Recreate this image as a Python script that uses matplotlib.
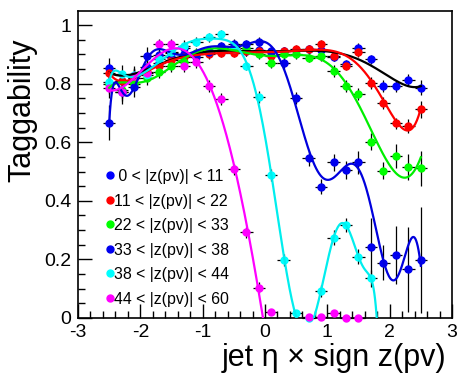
import numpy as np
import matplotlib
matplotlib.use('Agg')
import matplotlib.pyplot as plt
from matplotlib.lines import Line2D
from numpy.polynomial import Polynomial

plt.rcParams['font.family'] = ['Liberation Sans', 'DejaVu Sans']

# bin centres in jet eta x sign z(pv)
eta = [-2.5, -2.3, -2.1, -1.9, -1.7, -1.5, -1.3, -1.1, -0.9, -0.7, -0.5, -0.3, -0.1,
       0.1, 0.3, 0.5, 0.7, 0.9, 1.1, 1.3, 1.5, 1.7, 1.9, 2.1, 2.3, 2.5]
nan = np.nan

labels = [' 0 < |z(pv)| < 11', '11 < |z(pv)| < 22', '22 < |z(pv)| < 33',
          '33 < |z(pv)| < 38', '38 < |z(pv)| < 44', '44 < |z(pv)| < 60']

tag_z0 = [0.852, 0.81, 0.82, 0.858, 0.87, 0.89, 0.90, 0.892, 0.91, 0.91, 0.915, 0.91, 0.915,
          0.91, 0.91, 0.915, 0.917, 0.915, 0.892, 0.866, 0.923, 0.883, 0.793, 0.792, 0.812, 0.786]
err_z0 = [0.035, 0.03, 0.03, 0.025, 0.02, 0.02, 0.02, 0.015, 0.015, 0.015, 0.015, 0.015, 0.015,
          0.015, 0.015, 0.015, 0.015, 0.015, 0.015, 0.015, 0.015, 0.015, 0.02, 0.02, 0.02, 0.025]

tag_z1 = [0.835, 0.81, 0.82, 0.84, 0.86, 0.88, 0.89, 0.90, 0.90, 0.905, 0.905, 0.91, 0.91,
          0.894, 0.91, 0.917, 0.917, 0.935, 0.894, 0.86, 0.907, 0.801, 0.733, 0.664, 0.655, 0.712]
err_z1 = [0.035, 0.03, 0.03, 0.025, 0.02, 0.02, 0.02, 0.015, 0.015, 0.015, 0.015, 0.015, 0.015,
          0.015, 0.015, 0.015, 0.015, 0.015, 0.015, 0.015, 0.015, 0.02, 0.02, 0.02, 0.025, 0.03]

tag_z2 = [0.80, 0.78, 0.80, 0.82, 0.84, 0.86, 0.875, 0.904, 0.91, 0.92, 0.925, 0.92, 0.90,
          0.869, 0.90, 0.90, 0.889, 0.894, 0.843, 0.793, 0.765, 0.602, 0.503, 0.553, 0.516, 0.511]
err_z2 = [0.035, 0.03, 0.03, 0.025, 0.02, 0.02, 0.02, 0.015, 0.015, 0.015, 0.015, 0.015, 0.015,
          0.015, 0.015, 0.015, 0.015, 0.015, 0.02, 0.02, 0.02, 0.03, 0.03, 0.04, 0.045, 0.06]

tag_z3 = [0.667, 0.77, 0.79, 0.894, 0.898, 0.905, 0.922, 0.90, 0.909, 0.928, 0.937, 0.935, 0.943,
          0.909, 0.869, 0.752, 0.545, 0.448, 0.531, 0.505, 0.531, 0.243, 0.189, 0.215, 0.166, 0.198]
err_z3 = [0.06, 0.04, 0.035, 0.03, 0.025, 0.02, 0.02, 0.02, 0.02, 0.015, 0.015, 0.015, 0.015,
          0.015, 0.02, 0.02, 0.025, 0.025, 0.03, 0.03, 0.04, 0.1, 0.06, 0.1, 0.145, 0.18]

tag_z4 = [0.806, 0.833, 0.83, 0.83, 0.883, 0.909, 0.928, 0.943, 0.958, 0.969, 0.917, 0.86, 0.755,
          0.488, 0.198, 0.016, 0.0, 0.093, 0.274, 0.317, 0.209, 0.135, nan, nan, nan, nan]
err_z4 = [0.035, 0.03, 0.03, 0.025, 0.02, 0.02, 0.02, 0.015, 0.015, 0.015, 0.015, 0.015, 0.02,
          0.02, 0.02, 0.01, 0.0, 0.02, 0.025, 0.025, 0.025, 0.03, nan, nan, nan, nan]

tag_z5 = [0.786, 0.772, 0.825, 0.837, 0.934, 0.934, 0.861, 0.875, 0.792, 0.747, 0.507, 0.292, 0.104,
          0.02, nan, nan, 0.002, 0.002, 0.016, 0.0, 0.0, nan, nan, nan, nan, nan]
err_z5 = [0.035, 0.03, 0.03, 0.025, 0.02, 0.02, 0.02, 0.02, 0.02, 0.02, 0.02, 0.02, 0.02,
          0.01, nan, nan, 0.005, 0.005, 0.005, 0.005, 0.005, nan, nan, nan, nan, nan]

series = [tag_z0, tag_z1, tag_z2, tag_z3, tag_z4, tag_z5]
errors = [err_z0, err_z1, err_z2, err_z3, err_z4, err_z5]
colors = ['#0000ff', '#ff0000', '#00ff00', '#0000ee', '#00ffff', '#ff00ff']
fit_colors = ['black', '#ff0000', '#00ee00', '#0000dd', '#00eeee', '#ff00ff']
# polynomial degree, drawn x range, points used and error weighting of each fit
fit_deg = [7, 8, 8, 13, 12, 4]
fit_range = [(-2.5, 2.5), (-2.5, 2.5), (-2.5, 2.5), (-2.5, 2.5), (-2.5, 2.1), (-2.5, 0.3)]
fit_use = [(-2.6, 2.6), (-2.6, 2.6), (-2.6, 2.6), (-2.6, 2.6), (-2.6, 1.8), (-2.6, 0.0)]
fit_weighted = [True, True, True, True, False, True]

fig = plt.figure(figsize=(4.57, 3.81), dpi=100)
ax = fig.add_axes([78 / 457, 63 / 381, 374 / 457, 307 / 381])

x = np.array(eta)
for k in range(6):
    y = np.array(series[k], dtype=float)
    e = np.array(errors[k], dtype=float)
    ok = ~np.isnan(y)
    ax.errorbar(x[ok], y[ok], yerr=e[ok], xerr=0.1, fmt='o', ms=5, color=colors[k],
                ecolor='black', elinewidth=0.9, capsize=0, clip_on=False, zorder=3)
    # empty bins (zero error) are left out of the fit
    sel = ok & (e > 0) & (x > fit_use[k][0]) & (x < fit_use[k][1])
    w = 1.0 / np.maximum(e[sel], 0.01) if fit_weighted[k] else None
    p = Polynomial.fit(x[sel], y[sel], fit_deg[k], w=w)
    xs = np.linspace(fit_range[k][0], fit_range[k][1], 400)
    ax.plot(xs, p(xs), color=fit_colors[k], lw=1.6, zorder=4)

ax.set_xlim(-3, 3)
ax.set_ylim(0, 1.048)
ax.set_xticks(np.arange(-3, 3.1, 1))
ax.set_xticklabels(['-3', '-2', '-1', '0', '1', '2', '3'])
ax.set_xticks(np.arange(-3, 3.01, 0.2), minor=True)
ax.set_yticks([0, 0.2, 0.4, 0.6, 0.8, 1.0])
ax.set_yticklabels(['0', '0.2', '0.4', '0.6', '0.8', '1'])
ax.set_yticks(np.arange(0, 1.05, 0.05), minor=True)
ax.tick_params(which='both', direction='in', labelsize=14, top=False, right=False)
ax.tick_params(which='major', length=10, width=1)
ax.tick_params(which='minor', length=5, width=1)
ax.tick_params(axis='x', pad=4)
ax.tick_params(axis='y', pad=5)
for s in ax.spines.values():
    s.set_linewidth(1.2)

handles = [Line2D([], [], ls='none', marker='o', ms=5, color=c) for c in colors]
ax.legend(handles, labels, loc='upper left', bbox_to_anchor=(0.055, 0.511), frameon=False,
          fontsize=11.4, handlelength=0.4, handletextpad=0.05, labelspacing=0.6, borderpad=0)

fig.text(22 / 457, (381 - 110) / 381, 'Taggability', rotation=90, fontsize=22,
         ha='center', va='center')
fig.text(446 / 457, (381 - 358) / 381, 'jet \u03b7 \u00d7 sign z(pv)', fontsize=22,
         ha='right', va='center')

fig.savefig('out.png', dpi=100)
